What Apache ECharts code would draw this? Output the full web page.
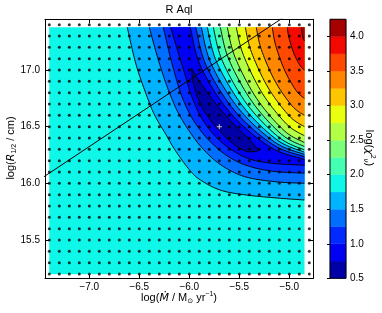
<!DOCTYPE html>
<html><head><meta charset="utf-8">
<script src="https://cdn.jsdelivr.net/npm/echarts@6/dist/echarts.min.js"></script>
<style>html,body{margin:0;padding:0;background:#fff}#c{width:382px;height:313px}</style>
</head><body><div id="c"></div>
<script>
// ---------- data ----------
const levels = [0.5,0.75,1.0,1.25,1.5,1.75,2.0,2.25,2.5,2.75,3.0,3.25,3.5,3.75,4.0,4.25];
const bandColors = ['#0000a6','#0000f3','#002aff','#006eff','#00b3ff','#0ef7e9','#45ffb2','#7bff7b','#b2ff45','#e9ff0e','#ffc600','#ff8700','#ff4800','#f30900','#a60000'];
const cbTicks = [0.5,1.0,1.5,2.0,2.5,3.0,3.5,4.0];
const xTicks = [-7.0,-6.5,-6.0,-5.5,-5.0];
const yTicks = [15.5,16.0,16.5,17.0];
const gridMdot = [-7.4,-7.3,-7.2,-7.1,-7.0,-6.9,-6.8,-6.7,-6.6,-6.5,-6.4,-6.3,-6.2,-6.1,-6.0,-5.9,-5.8,-5.7,-5.6,-5.5,-5.4,-5.3,-5.2,-5.1,-5.0,-4.9,-4.8];
const gridR = [15.2,15.3,15.4,15.5,15.6,15.7,15.8,15.9,16.0,16.1,16.2,16.3,16.4,16.5,16.6,16.7,16.8,16.9,17.0,17.1,17.2,17.3,17.4];
const fillMdot = [-7.4, -4.85];
const fillR = [15.2, 17.375];
const bestFit = [[-5.7, 16.5]];
const diagLine = [[-7.5, 16.031], [-5.0, 17.498]];

// contour branches (log Mdot, log R)
const lower175 = [[-6.62,17.375],[-6.53,17.04],[-6.41,16.735],[-6.34,16.59],[-6.24,16.44],[-6.14,16.29],[-6.0,16.12],[-5.89,16.03],[-5.69,15.94],[-5.43,15.897],[-5.09,15.868],[-4.85,15.853]];
const lower150 = [[-6.40,17.375],[-6.33,17.15],[-6.26,16.95],[-6.19,16.78],[-6.11,16.62],[-6.0,16.46],[-5.86,16.3],[-5.68,16.16],[-5.45,16.06],[-5.15,16.015],[-4.85,16.0]];
const lower125 = [[-6.26,17.375],[-6.2,17.15],[-6.14,16.95],[-6.08,16.78],[-6.0,16.62],[-5.9,16.48],[-5.77,16.35],[-5.6,16.23],[-5.4,16.15],[-5.15,16.105],[-4.85,16.09]];
const lower100 = [[-6.186,17.375],[-6.11,17.15],[-6.04,16.95],[-5.99,16.8],[-5.91,16.63],[-5.82,16.5],[-5.7,16.38],[-5.55,16.28],[-5.38,16.21],[-5.15,16.175],[-4.85,16.16]];
const lens075 = [[-5.977,17.015],[-5.91,16.912],[-5.827,16.809],[-5.727,16.691],[-5.61,16.574],[-5.493,16.465],[-5.393,16.382],[-5.31,16.294],[-5.327,16.279],[-5.427,16.279],[-5.527,16.324],[-5.643,16.412],[-5.76,16.524],[-5.86,16.647],[-5.927,16.779],[-5.967,16.912]];
const upper100 = [[-5.99,17.375],[-5.883,17.024],[-5.589,16.62],[-5.193,16.32],[-4.85,16.21]];
const upper125 = [[-5.935,17.375],[-5.831,17.039],[-5.548,16.642],[-5.169,16.344],[-4.85,16.235]];
const upper150 = [[-5.88,17.375],[-5.78,17.052],[-5.507,16.66],[-5.147,16.364],[-4.85,16.255]];
const upper175 = [[-5.82,17.375],[-5.724,17.065],[-5.464,16.679],[-5.124,16.384],[-4.85,16.275]];
const upper200 = [[-5.76,17.375],[-5.668,17.077],[-5.422,16.697],[-5.101,16.404],[-4.85,16.295]];
const upper225 = [[-5.69,17.375],[-5.604,17.092],[-5.373,16.721],[-5.077,16.432],[-4.85,16.325]];
const upper250 = [[-5.62,17.375],[-5.54,17.107],[-5.326,16.748],[-5.053,16.466],[-4.85,16.36]];
const upper275 = [[-5.53,17.375],[-5.458,17.129],[-5.267,16.79],[-5.025,16.521],[-4.85,16.42]];
const upper300 = [[-5.44,17.375],[-5.377,17.153],[-5.21,16.841],[-5.0,16.594],[-4.85,16.5]];
const upper325 = [[-5.33,17.375],[-5.279,17.178],[-5.143,16.902],[-4.972,16.683],[-4.85,16.6]];
const upper350 = [[-5.17,17.375],[-5.136,17.216],[-5.045,16.994],[-4.931,16.817],[-4.85,16.75]];
const upper375 = [[-5.02,17.375],[-5.002,17.28],[-4.954,17.146],[-4.893,17.04],[-4.85,17.0]];
const upper400 = [[-4.88,17.375],[-4.877,17.346],[-4.868,17.305],[-4.858,17.268],[-4.85,17.26]];

// ---------- build ----------
const xMin = -7.443, xMax = -4.76, yMin = 15.162, yMax = 17.447;
const valleyDefs = [[lower175, upper175, 4],[lower150, upper150, 3],[lower125, upper125, 2],[lower100, upper100, 1]];
const upperDefs = [[upper200,6],[upper225,7],[upper250,8],[upper275,9],[upper300,10],[upper325,11],[upper350,12],[upper375,13],[upper400,14]];
const fillShapes = [{kind:'rect', band:5}];
valleyDefs.forEach(d => fillShapes.push({kind:'valley', lo:d[0], up:d[1], band:d[2]}));
fillShapes.push({kind:'lens', band:0});
upperDefs.forEach(d => fillShapes.push({kind:'upper', up:d[0], band:d[1]}));
const lineCurves = [lower175, lower150, lower125, lower100, upper100, upper125, upper150, upper175, upper200, upper225, upper250, upper275, upper300, upper325, upper350, upper375, upper400];

function spline(pts) {
  const n = pts.length, out = [];
  if (n < 3) return pts.slice();
  const g = i => pts[Math.max(0, Math.min(n - 1, i))];
  for (let i = 0; i < n - 1; i++) {
    const p0 = g(i-1), p1 = g(i), p2 = g(i+1), p3 = g(i+2);
    for (let s = 0; s < 10; s++) {
      const t = s / 10, t2 = t*t, t3 = t2*t;
      const f = k => 0.5*(2*p1[k] + (-p0[k]+p2[k])*t + (2*p0[k]-5*p1[k]+4*p2[k]-p3[k])*t2 + (-p0[k]+3*p1[k]-3*p2[k]+p3[k])*t3);
      out.push([f(0), f(1)]);
    }
  }
  out.push(pts[n-1]);
  return out;
}
const px = (api, pts) => pts.map(p => api.coord(p));

const dots = [];
gridMdot.forEach(x => gridR.forEach(y => dots.push([x, y])));

const baseFont = 'Liberation Sans';
function mainX(pos, labels) {
  return {gridIndex:0, type:'value', position:pos, min:xMin, max:xMax, z:10,
    axisLine:{show:true, onZero:false, lineStyle:{color:'#000', width:1}},
    axisTick:{show:true, inside:true, length:4, customValues:xTicks, lineStyle:{color:'#000', width:1}},
    axisLabel:{show:labels, customValues:xTicks, margin:4, color:'#000', fontSize:10, fontFamily:baseFont,
      formatter: v => (v < 0 ? '\u2212' : '') + Math.abs(v).toFixed(1)},
    splitLine:{show:false}};
}
function mainY(pos, labels) {
  return {gridIndex:0, type:'value', position:pos, min:yMin, max:yMax, z:10,
    axisLine:{show:true, onZero:false, lineStyle:{color:'#000', width:1}},
    axisTick:{show:true, inside:true, length:4, customValues:yTicks, lineStyle:{color:'#000', width:1}},
    axisLabel:{show:labels, customValues:yTicks, margin:5, color:'#000', fontSize:10, fontFamily:baseFont,
      formatter: v => v.toFixed(1)},
    splitLine:{show:false}};
}

const chart = echarts.init(document.getElementById('c'));
chart.setOption({
  animation:false,
  backgroundColor:'#fff',
  grid:[{left:45, top:19.3, width:268.3, height:259}, {left:330, top:19.3, width:16, height:259}],
  xAxis:[mainX('bottom', true), mainX('top', false), {gridIndex:1, type:'value', min:0, max:1, show:false}],
  yAxis:[mainY('left', true), mainY('right', false),
    {gridIndex:1, type:'value', position:'right', min:0.5, max:4.25, z:10,
     axisLine:{show:false},
     axisTick:{show:true, inside:true, length:3, customValues:cbTicks, lineStyle:{color:'#000'}},
     axisLabel:{customValues:cbTicks, margin:4, color:'#000', fontSize:10, fontFamily:baseFont, formatter:v => v.toFixed(1)},
     splitLine:{show:false}}],
  series:[
    {type:'custom', xAxisIndex:0, yAxisIndex:0, z:1, silent:true,
     data: fillShapes.map((s, i) => [fillMdot[0], fillR[0], i]),
     renderItem(params, api) {
       const s = fillShapes[params.dataIndex];
       let pts;
       if (s.kind === 'rect') pts = px(api, [[fillMdot[0],fillR[0]],[fillMdot[1],fillR[0]],[fillMdot[1],fillR[1]],[fillMdot[0],fillR[1]]]);
       else if (s.kind === 'valley') pts = spline(px(api, s.lo)).concat(spline(px(api, s.up.slice().reverse())));
       else if (s.kind === 'lens') pts = px(api, lens075);
       else pts = spline(px(api, s.up)).concat([api.coord([fillMdot[1], fillR[1]])]);
       const c = bandColors[s.band];
       return {type:'polygon', shape:{points:pts}, style:{fill:c, stroke:c, lineWidth:0.4}};
     }},
    {type:'custom', xAxisIndex:0, yAxisIndex:0, z:2, silent:true,
     data: lineCurves.map((c, i) => [fillMdot[0], fillR[0], i]).concat([[fillMdot[0], fillR[0], -1]]),
     renderItem(params, api) {
       const i = params.dataIndex;
       let pts;
       if (i < lineCurves.length) pts = spline(px(api, lineCurves[i]));
       else { pts = px(api, lens075); pts.push(pts[0]); }
       return {type:'polyline', shape:{points:pts}, style:{fill:null, stroke:'#000', lineWidth:0.9}};
     }},
    {type:'scatter', xAxisIndex:0, yAxisIndex:0, z:3, silent:true, data:dots, symbol:'circle', symbolSize:3,
     itemStyle:{color:'#000'}},
    {type:'line', xAxisIndex:0, yAxisIndex:0, z:4, silent:true, data:diagLine, showSymbol:false, clip:true,
     lineStyle:{color:'#000', width:1}},
    {type:'scatter', xAxisIndex:0, yAxisIndex:0, z:5, silent:true, data:bestFit,
     symbol:'path://M4,0H6V4H10V6H6V10H4V6H0V4H4Z', symbolSize:5, itemStyle:{color:'#fff'}},
    {type:'custom', xAxisIndex:2, yAxisIndex:2, z:1, silent:true,
     data: bandColors.map((c, i) => [0, levels[i], i]).concat([[0, 0.5, -1]]),
     renderItem(params, api) {
       const i = params.dataIndex;
       if (i < bandColors.length) {
         const a = api.coord([0, levels[i]]), b = api.coord([1, levels[i+1]]);
         return {type:'rect', shape:{x:a[0], y:b[1], width:b[0]-a[0], height:a[1]-b[1]},
           style:{fill:bandColors[i], stroke:bandColors[i], lineWidth:0.4}};
       }
       const a = api.coord([0, 0.5]), b = api.coord([1, 4.25]);
       return {type:'rect', z2:10, shape:{x:a[0], y:b[1], width:b[0]-a[0], height:a[1]-b[1]},
         style:{fill:null, stroke:'#000', lineWidth:1}};
     }}
  ],
  graphic:[
    {type:'text', x:179, y:10, style:{text:'R Aql', fontSize:11, fontFamily:baseFont, fill:'#000',
      align:'center', verticalAlign:'middle', textAlign:'center', textVerticalAlign:'middle'}},
    {type:'text', x:179, y:298, style:{text:'{n|log(}{i|Ṁ}{n| / M}{s|⊙}{n| yr}{p|−1}{n|)}',
      fill:'#000', align:'center', verticalAlign:'middle', textAlign:'center', textVerticalAlign:'middle',
      rich:{n:{fontSize:11, fontFamily:baseFont, lineHeight:14, verticalAlign:'middle'},
            i:{fontSize:11, fontFamily:'DejaVu Sans', fontStyle:'italic', lineHeight:14, verticalAlign:'middle'},
            s:{fontSize:7, fontFamily:'DejaVu Sans', lineHeight:8, verticalAlign:'bottom'},
            p:{fontSize:7, fontFamily:baseFont, lineHeight:8, verticalAlign:'top'}}}},
    {type:'text', x:11, y:148, rotation:Math.PI/2, style:{text:'{n|log(}{i|R}{s|1/2}{n| / cm)}',
      fill:'#000', align:'center', verticalAlign:'middle', textAlign:'center', textVerticalAlign:'middle',
      rich:{n:{fontSize:11, fontFamily:baseFont, lineHeight:14, verticalAlign:'middle'},
            i:{fontSize:11, fontFamily:'DejaVu Sans', fontStyle:'italic', lineHeight:14, verticalAlign:'middle'},
            s:{fontSize:7, fontFamily:baseFont, lineHeight:8, verticalAlign:'bottom'}}}},
    {type:'text', x:369, y:148, rotation:-Math.PI/2, style:{text:'{n|log(}{i|χ}{p|2}{s|ν}{n|)}',
      fill:'#000', align:'center', verticalAlign:'middle', textAlign:'center', textVerticalAlign:'middle',
      rich:{n:{fontSize:11, fontFamily:baseFont, lineHeight:14, verticalAlign:'middle'},
            i:{fontSize:11, fontFamily:'DejaVu Sans', fontStyle:'italic', lineHeight:14, verticalAlign:'middle'},
            s:{fontSize:7, fontFamily:'DejaVu Sans', fontStyle:'italic', lineHeight:8, verticalAlign:'bottom'},
            p:{fontSize:7, fontFamily:baseFont, lineHeight:8, verticalAlign:'top'}}}}
  ]
});
</script></body></html>
